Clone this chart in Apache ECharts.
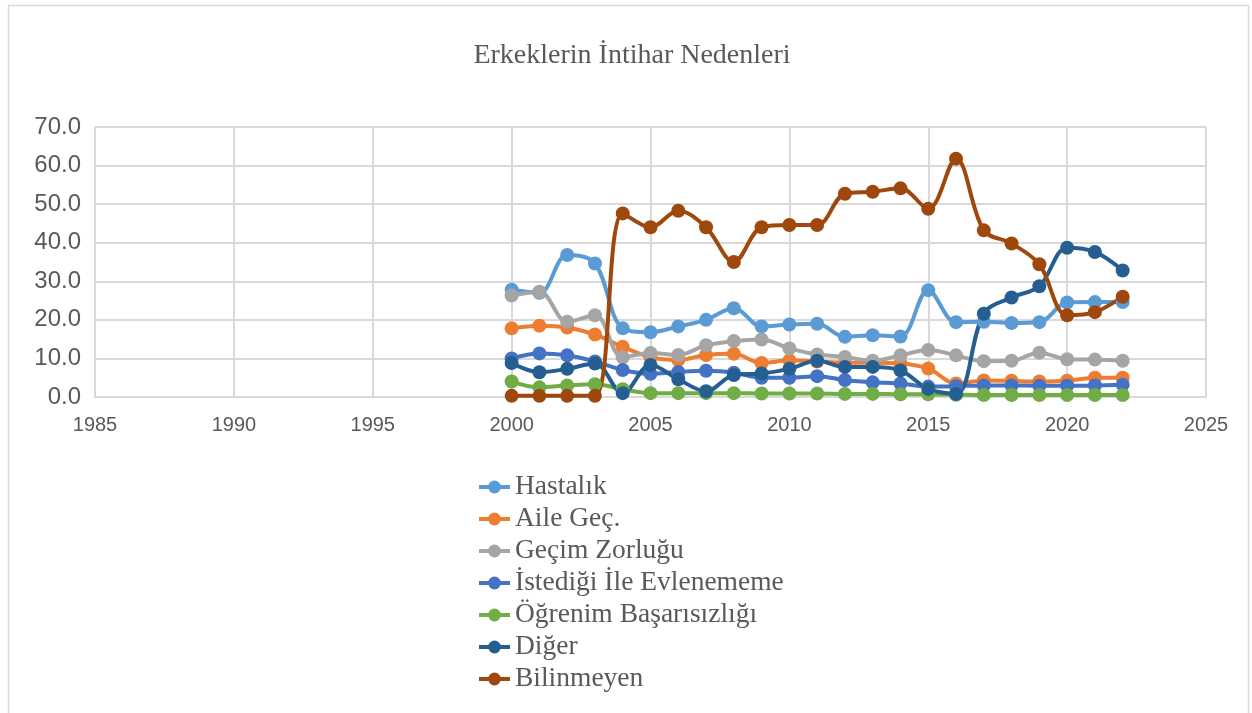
<!DOCTYPE html>
<html lang="tr">
<head>
<meta charset="utf-8">
<title>Erkeklerin İntihar Nedenleri</title>
<script src="https://cdn.jsdelivr.net/npm/echarts@6/dist/echarts.min.js"></script>
<style>
  html, body { margin: 0; padding: 0; background: #ffffff; }
  #chart { width: 1252px; height: 713px; }
</style>
</head>
<body>
<div id="chart"></div>
<script>
// Yıllar (2000–2022)
const years = [2000, 2001, 2002, 2003, 2004, 2005, 2006, 2007, 2008, 2009, 2010,
  2011, 2012, 2013, 2014, 2015, 2016, 2017, 2018, 2019, 2020, 2021, 2022];

const seriesNames = ['Hastalık', 'Aile Geç.', 'Geçim Zorluğu', 'İstediği İle Evlenememe',
  'Öğrenim Başarısızlığı', 'Diğer', 'Bilinmeyen'];

const hastalik   = [27.8, 27.0, 36.8, 34.6, 17.8, 16.8, 18.3, 20.0, 23.0, 18.3, 18.8, 19.0,
  15.6, 16.0, 15.7, 27.7, 19.4, 19.5, 19.2, 19.4, 24.5, 24.6, 24.6];
const aileGec    = [17.8, 18.5, 18.0, 16.2, 13.0, 10.3, 9.6, 10.9, 11.2, 8.8, 9.5, 9.2,
  8.9, 8.9, 8.7, 7.4, 3.5, 4.3, 4.2, 4.0, 4.2, 5.0, 5.0];
const gecim      = [26.3, 27.3, 19.5, 21.2, 10.3, 11.4, 10.9, 13.4, 14.5, 14.9, 12.6, 11.0,
  10.4, 9.4, 10.8, 12.2, 10.8, 9.3, 9.4, 11.5, 9.8, 9.7, 9.4];
const evlenememe = [10.0, 11.3, 10.8, 9.2, 7.0, 6.0, 6.5, 6.8, 6.3, 5.0, 5.0, 5.4,
  4.4, 3.8, 3.5, 2.7, 2.8, 3.0, 3.0, 2.9, 2.9, 3.0, 3.2];
const ogrenim    = [4.0, 2.5, 3.0, 3.3, 2.0, 1.0, 1.0, 1.0, 1.0, 0.9, 0.9, 0.9,
  0.8, 0.8, 0.7, 0.7, 0.6, 0.5, 0.5, 0.5, 0.5, 0.5, 0.5];
const diger      = [8.8, 6.4, 7.3, 8.7, 1.0, 8.3, 4.6, 1.5, 5.7, 6.1, 7.3, 9.4,
  7.8, 7.8, 6.9, 2.1, 0.8, 21.6, 25.8, 28.7, 38.7, 37.6, 32.8];
const bilinmeyen = [0.3, 0.3, 0.3, 0.3, 47.6, 44.0, 48.3, 44.0, 35.0, 44.0, 44.6, 44.6,
  52.7, 53.2, 54.1, 48.8, 61.8, 43.2, 39.8, 34.4, 21.2, 22.0, 26.0];

const seriesValues = [hastalik, aileGec, gecim, evlenememe, ogrenim, diger, bilinmeyen];
const seriesColors = ['#5B9BD5', '#ED7D31', '#A5A5A5', '#4472C4', '#70AD47', '#255E91', '#9E480E'];

const textGray = '#595959';
const gridGray = '#d9d9d9';

const chart = echarts.init(document.getElementById('chart'), null, { renderer: 'canvas' });

const series = seriesNames.map((name, i) => ({
  name: name,
  type: 'line',
  data: years.map((y, j) => [y, seriesValues[i][j]]),
  smooth: 0.35,
  smoothConstraint: false,
  clip: false,
  symbol: 'circle',
  symbolSize: 14,
  showSymbol: true,
  lineStyle: { width: 4, color: seriesColors[i] },
  itemStyle: { color: seriesColors[i] },
  emphasis: { disabled: true },
  animation: false
}));

chart.setOption({
  animation: false,
  backgroundColor: '#ffffff',
  graphic: [{
    type: 'rect',
    left: 6, top: 3,
    shape: { width: 1240, height: 730 },
    style: { fill: 'none', stroke: gridGray, lineWidth: 1.5 },
    silent: true,
    z: -10
  }],
  title: {
    text: 'Erkeklerin İntihar Nedenleri',
    left: 627,
    top: 37,
    textAlign: 'center',
    textStyle: {
      fontFamily: 'Liberation Serif',
      fontSize: 28,
      fontWeight: 'normal',
      color: textGray
    }
  },
  legend: {
    orient: 'vertical',
    left: 477,
    top: 473,
    itemWidth: 31,
    itemHeight: 16,
    itemGap: 4,
    padding: 0,
    lineStyle: { width: 4 },
    textStyle: {
      fontFamily: 'Liberation Serif',
      fontSize: 27.5,
      lineHeight: 26,
      color: textGray
    },
    data: seriesNames
  },
  grid: {
    left: 95,
    right: 46,
    top: 127,
    bottom: 316,
    containLabel: false,
    outerBoundsMode: 'none'
  },
  xAxis: {
    type: 'value',
    min: 1985,
    max: 2025,
    interval: 5,
    axisLine: { show: true, lineStyle: { color: gridGray, width: 2 } },
    axisTick: { show: false },
    splitLine: { show: true, lineStyle: { color: gridGray, width: 2 } },
    axisLabel: {
      formatter: v => String(v),
      fontFamily: 'Liberation Sans',
      fontSize: 20,
      color: textGray,
      margin: 18
    }
  },
  yAxis: {
    type: 'value',
    min: 0,
    max: 70,
    interval: 10,
    axisLine: { show: false },
    axisTick: { show: false },
    splitLine: { show: true, lineStyle: { color: gridGray, width: 2 } },
    axisLabel: {
      formatter: v => v.toFixed(1),
      fontFamily: 'Liberation Sans',
      fontSize: 24,
      color: textGray,
      margin: 14
    }
  },
  series: series
});
</script>
</body>
</html>
